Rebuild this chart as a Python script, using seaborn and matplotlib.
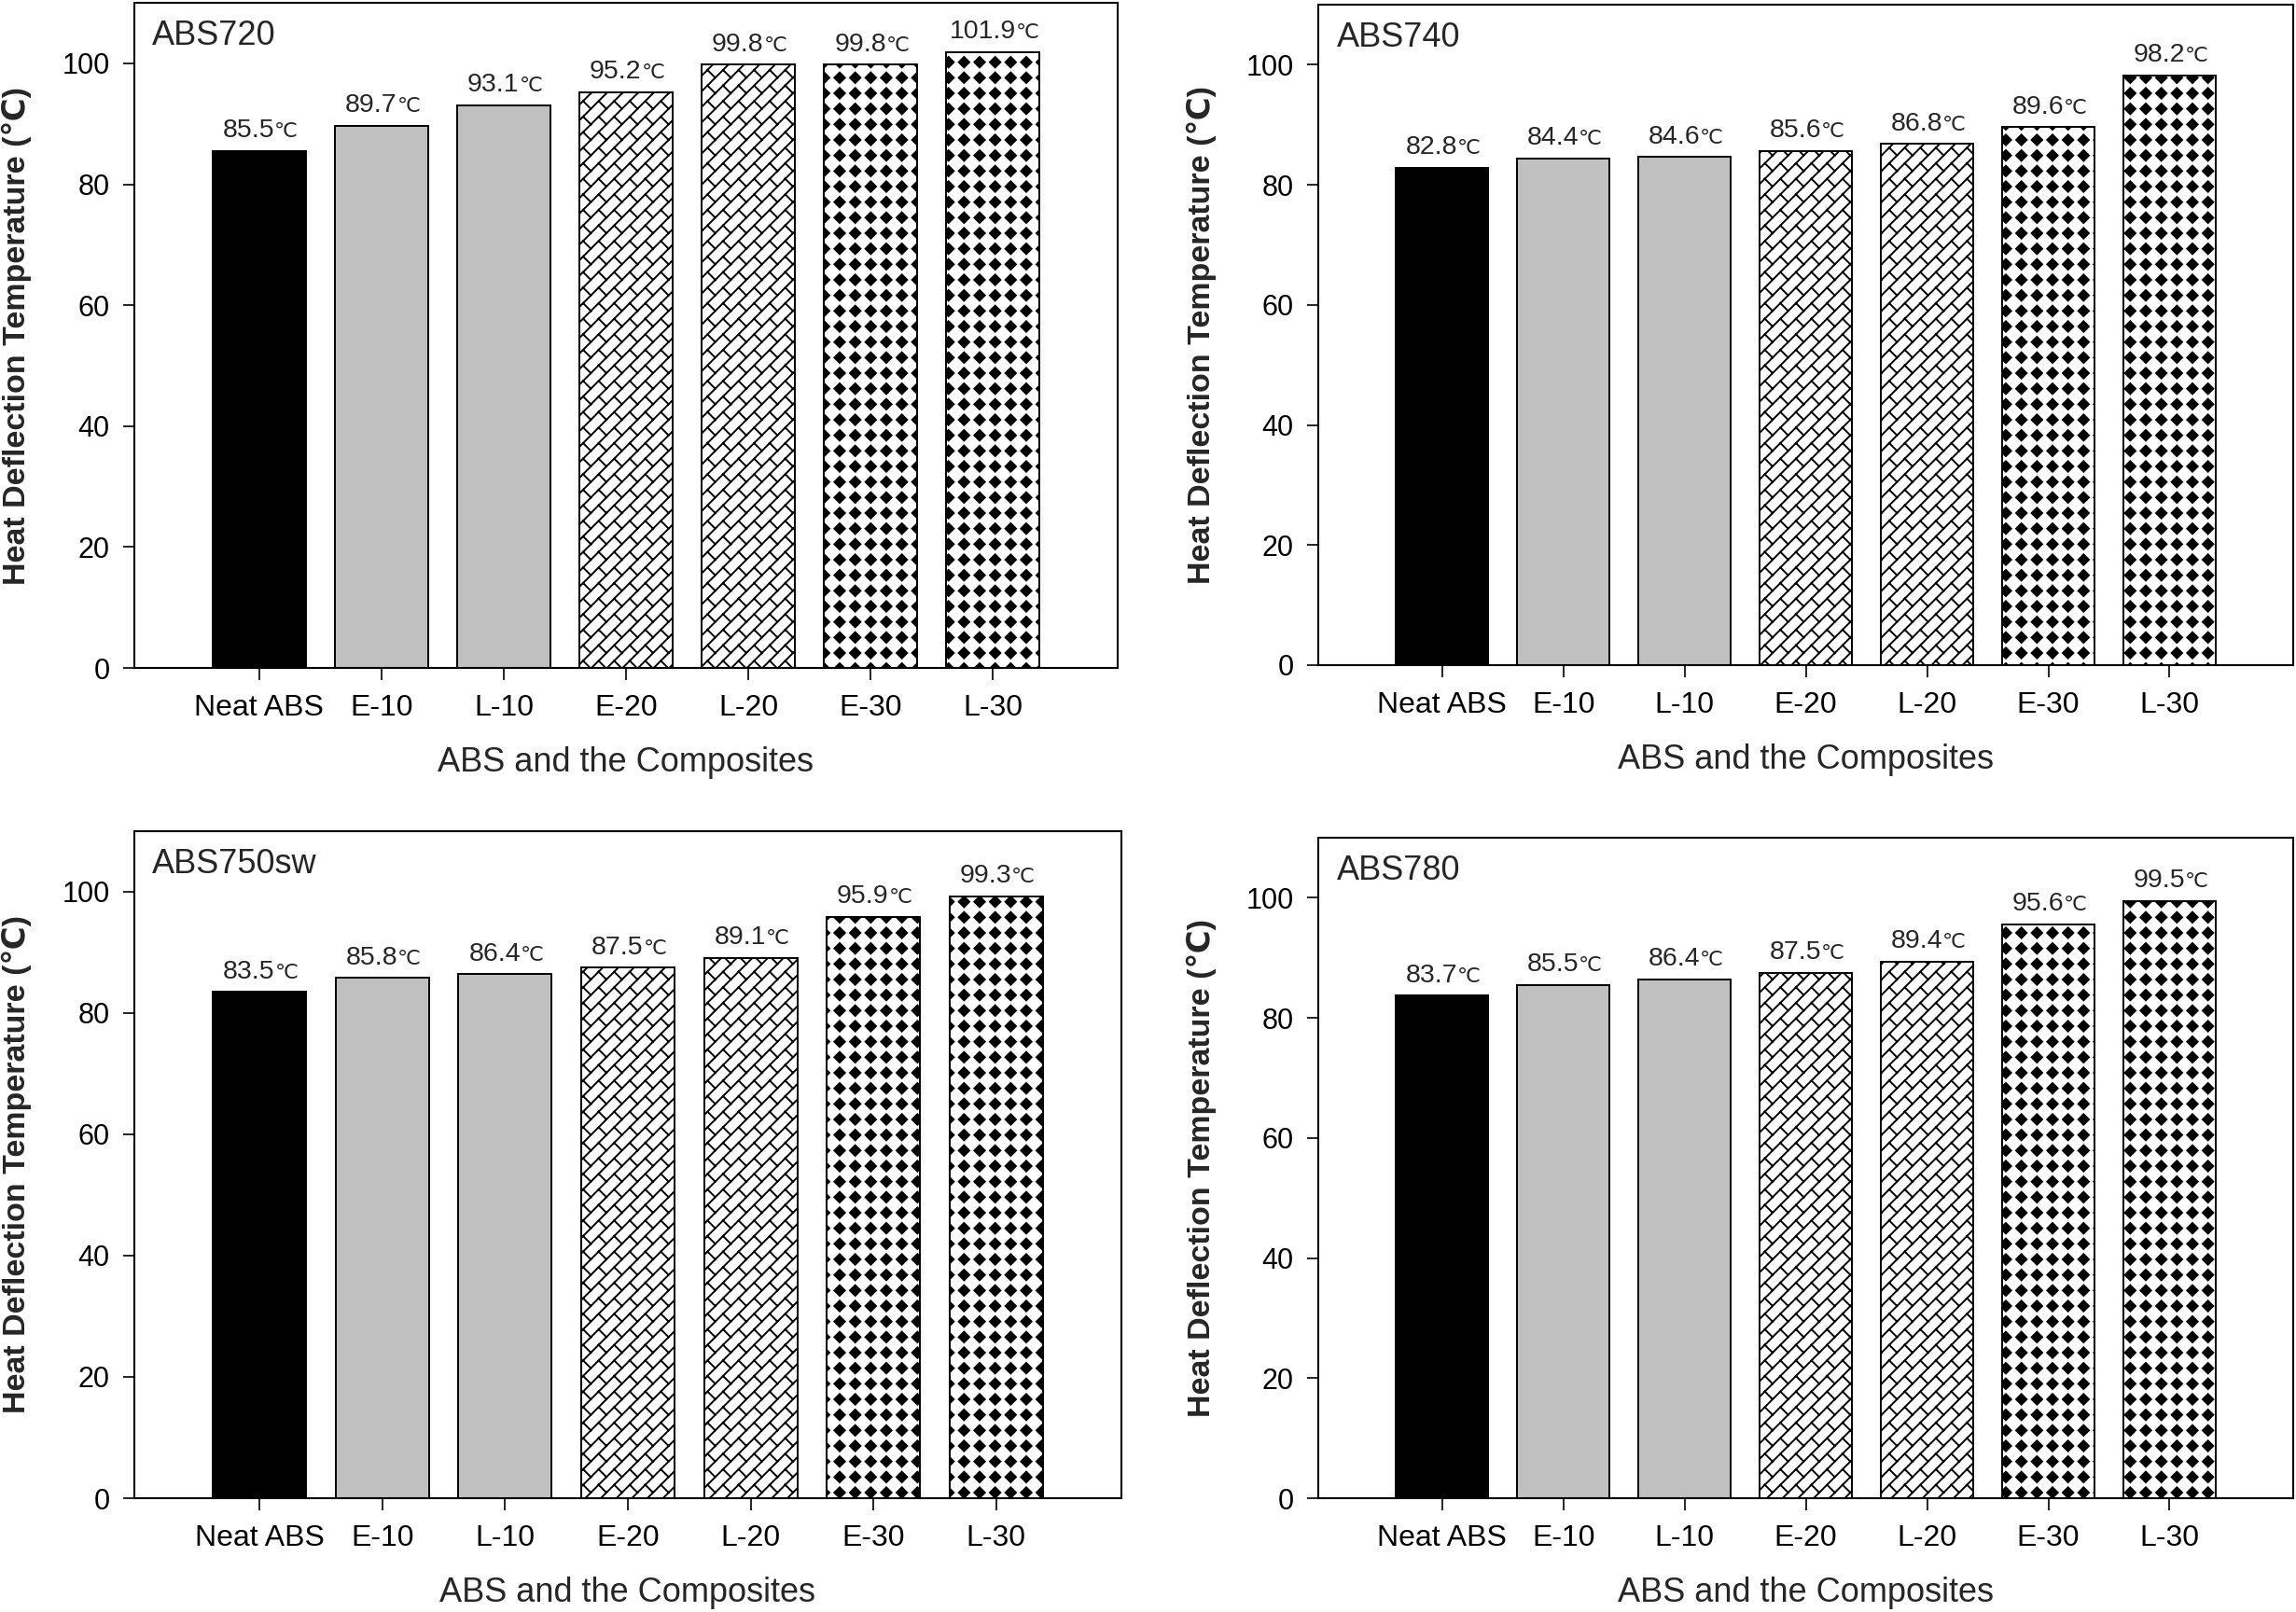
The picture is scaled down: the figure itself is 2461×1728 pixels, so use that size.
import warnings
import numpy as np
import pandas as pd
import matplotlib
matplotlib.use("Agg")
import matplotlib.pyplot as plt
import matplotlib.hatch as mhatch
from matplotlib.path import Path
import seaborn as sns

warnings.filterwarnings("ignore")

# data
categories = ["Neat ABS", "E-10", "L-10", "E-20", "L-20", "E-30", "L-30"]
panel_names = ["ABS720", "ABS740", "ABS750sw", "ABS780"]
abs720 = [85.5, 89.7, 93.1, 95.2, 99.8, 99.8, 101.9]
abs740 = [82.8, 84.4, 84.6, 85.6, 86.8, 89.6, 98.2]
abs750sw = [83.5, 85.8, 86.4, 87.5, 89.1, 95.9, 99.3]
abs780 = [83.7, 85.5, 86.4, 87.5, 89.4, 95.6, 99.5]
panel_values = [abs720, abs740, abs750sw, abs780]
y_ticks = [0, 20, 40, 60, 80, 100]

bar_colors = ["black", "#c0c0c0", "#c0c0c0", "white", "white", "white", "white"]
bar_hatches = [None, None, None, "b", "b", "d", "d"]


# custom hatches: 'b' = diagonal brick, 'd' = diamond grid
class BrickHatch(mhatch.HatchPatternBase):
    def __init__(self, hatch, density):
        n = 6 * hatch.count("b")
        segs = []
        if n:
            s = 1.0 / n
            for k in range(-n, n + 1):
                c = k * s
                segs.append(((-1.0, -1.0 + c), (2.0, 2.0 + c)))
            for k in range(-n, n):
                c0, c1 = k * s, (k + 1) * s
                off = (k % 2) * s
                for m in range(-1, n + 2):
                    t = m * 2 * s + off
                    segs.append((((t - c0) / 2, (t + c0) / 2),
                                 ((t - c1) / 2, (t + c1) / 2)))
        self.segs = segs
        self.num_vertices = 2 * len(segs)

    def set_vertices_and_codes(self, vertices, codes):
        for i, (a, b) in enumerate(self.segs):
            vertices[2 * i] = a
            vertices[2 * i + 1] = b
        codes[0::2] = Path.MOVETO
        codes[1::2] = Path.LINETO


class DiamondHatch(mhatch.HatchPatternBase):
    def __init__(self, hatch, density):
        self.n = 6 * hatch.count("d")
        self.num_vertices = 5 * (self.n + 1) ** 2 if self.n else 0

    def set_vertices_and_codes(self, vertices, codes):
        n = self.n
        r = 0.34 / n
        shape = np.array([[0, -r], [r, 0], [0, r], [-r, 0], [0, -r]])
        i = 0
        for a in range(n + 1):
            for b in range(n + 1):
                vertices[i:i + 5] = shape + (a / n, b / n)
                codes[i] = Path.MOVETO
                codes[i + 1:i + 4] = Path.LINETO
                codes[i + 4] = Path.CLOSEPOLY
                i += 5


mhatch._hatch_types.append(BrickHatch)
mhatch._hatch_types.append(DiamondHatch)

sns.set_style("white")
plt.rcParams["font.family"] = ["Liberation Sans", "DejaVu Sans"]
plt.rcParams["hatch.linewidth"] = 1.4

fig = plt.figure(figsize=(24.61, 17.28), dpi=100)
positions = [
    [0.0585, 0.5856, 0.4283, 0.4126],
    [0.5742, 0.5874, 0.4246, 0.4097],
    [0.0585, 0.0706, 0.4299, 0.4138],
    [0.5742, 0.0706, 0.4246, 0.4097],
]

for name, vals, pos in zip(panel_names, panel_values, positions):
    ax = fig.add_axes(pos)
    df = pd.DataFrame({"sample": categories, "hdt": vals})
    sns.barplot(data=df, x="sample", y="hdt", hue="sample", palette=bar_colors,
                legend=False, width=0.76, saturation=1, ax=ax)
    for patch, hatch in zip(ax.patches, bar_hatches):
        patch.set_edgecolor("black")
        patch.set_linewidth(1.4)
        if hatch:
            patch.set_hatch(hatch)

    # value labels: number plus smaller degree sign
    for i, v in enumerate(vals):
        txt = f"{v:.1f}"
        num_w = ((len(txt) - 1) * 0.556 + 0.278) * 20.5
        c_w = 16
        dx = (num_w - c_w) / 2
        ax.annotate(txt, xy=(i, v), xytext=(dx, 10.5), textcoords="offset points",
                    ha="right", va="baseline", fontsize=20.5)
        ax.annotate("℃", xy=(i, v), xytext=(dx, 10.5), textcoords="offset points",
                    ha="left", va="baseline", fontsize=16)

    ax.annotate(name, xy=(0, 1), xycoords="axes fraction", xytext=(14, -13),
                textcoords="offset points", ha="left", va="top", fontsize=26)

    ax.set_xlim(-1.02, 7.02)
    ax.set_ylim(0, 110)
    ax.set_yticks(y_ticks)
    ax.set_xlabel("ABS and the Composites", fontsize=26)
    ax.set_ylabel("Heat Deflection Temperature (℃)", fontsize=24.5, fontweight="bold")
    ax.xaxis.set_label_coords(0.5, -0.118)
    ax.yaxis.set_label_coords(-0.104, 0.5)
    ax.tick_params(axis="both", direction="out", length=9, width=1.2,
                   color="black", labelcolor="black")
    ax.tick_params(axis="x", pad=11, labelsize=23)
    ax.tick_params(axis="y", pad=10, labelsize=22)
    ax.tick_params(left=True, bottom=True, top=False, right=False)
    for sp in ax.spines.values():
        sp.set_visible(True)
        sp.set_color("black")
        sp.set_linewidth(1.5)

fig.savefig("out.png", dpi=100, facecolor="white")
